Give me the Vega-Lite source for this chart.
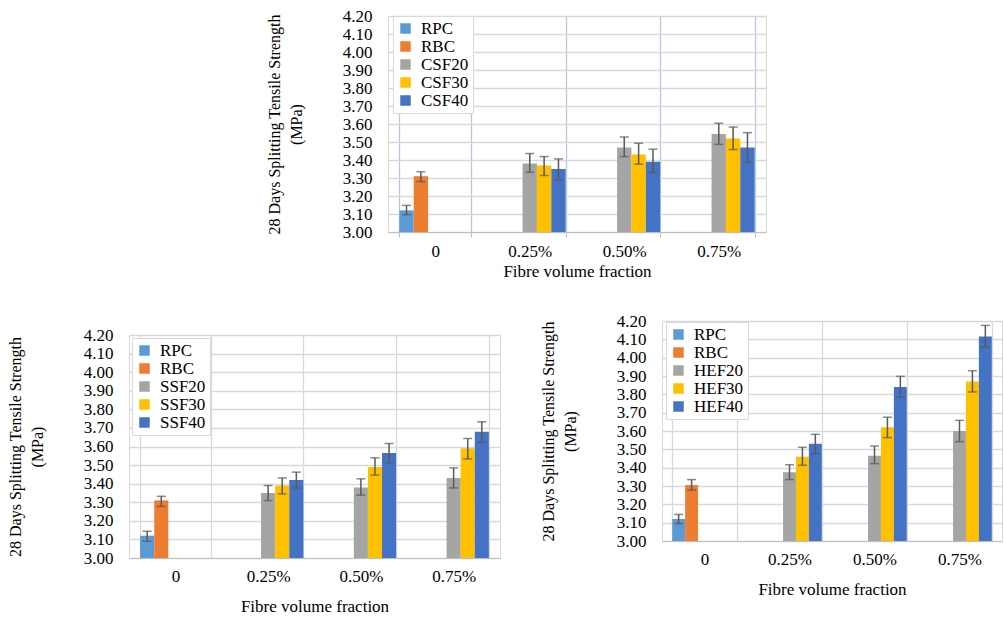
{
  "$schema": "https://vega.github.io/schema/vega-lite/v6.json",
  "padding": {"left": 6, "top": 6, "right": 0, "bottom": 0},
  "background": "white",
  "config": {
    "font": "Liberation Serif",
    "axis": {"labelFontSize": 17, "titleFontSize": 17, "titleFontWeight": "normal", "labelColor": "black", "titleColor": "black", "labelFont": "Liberation Serif", "titleFont": "Liberation Serif"},
    "axisY": {"titleFontSize": 16, "grid": true, "labelOverlap": false, "gridColor": "#D9D9D9", "gridWidth": 1.3, "domain": false, "ticks": false},
    "legend": {"labelFont": "Liberation Serif"}
  },
  "datasets": {
    "csf": [
      {"cat": "0", "series": "RPC", "value": 3.12, "lo": 3.096, "hi": 3.148},
      {"cat": "0", "series": "RBC", "value": 3.31, "lo": 3.28, "hi": 3.335},
      {"cat": "0", "series": "CSF20", "value": 3.0, "lo": null, "hi": null},
      {"cat": "0", "series": "CSF30", "value": 3.0, "lo": null, "hi": null},
      {"cat": "0", "series": "CSF40", "value": 3.0, "lo": null, "hi": null},
      {"cat": "0.25%", "series": "RPC", "value": 3.0, "lo": null, "hi": null},
      {"cat": "0.25%", "series": "RBC", "value": 3.0, "lo": null, "hi": null},
      {"cat": "0.25%", "series": "CSF20", "value": 3.38, "lo": 3.332, "hi": 3.436},
      {"cat": "0.25%", "series": "CSF30", "value": 3.37, "lo": 3.314, "hi": 3.419},
      {"cat": "0.25%", "series": "CSF40", "value": 3.35, "lo": 3.29, "hi": 3.406},
      {"cat": "0.50%", "series": "RPC", "value": 3.0, "lo": null, "hi": null},
      {"cat": "0.50%", "series": "RBC", "value": 3.0, "lo": null, "hi": null},
      {"cat": "0.50%", "series": "CSF20", "value": 3.47, "lo": 3.419, "hi": 3.528},
      {"cat": "0.50%", "series": "CSF30", "value": 3.43, "lo": 3.377, "hi": 3.493},
      {"cat": "0.50%", "series": "CSF40", "value": 3.39, "lo": 3.33, "hi": 3.46},
      {"cat": "0.75%", "series": "RPC", "value": 3.0, "lo": null, "hi": null},
      {"cat": "0.75%", "series": "RBC", "value": 3.0, "lo": null, "hi": null},
      {"cat": "0.75%", "series": "CSF20", "value": 3.545, "lo": 3.487, "hi": 3.604},
      {"cat": "0.75%", "series": "CSF30", "value": 3.52, "lo": 3.458, "hi": 3.583},
      {"cat": "0.75%", "series": "CSF40", "value": 3.47, "lo": 3.388, "hi": 3.552}
    ],
    "ssf": [
      {"cat": "0", "series": "RPC", "value": 3.12, "lo": 3.09, "hi": 3.144},
      {"cat": "0", "series": "RBC", "value": 3.31, "lo": 3.277, "hi": 3.332},
      {"cat": "0", "series": "SSF20", "value": 3.0, "lo": null, "hi": null},
      {"cat": "0", "series": "SSF30", "value": 3.0, "lo": null, "hi": null},
      {"cat": "0", "series": "SSF40", "value": 3.0, "lo": null, "hi": null},
      {"cat": "0.25%", "series": "RPC", "value": 3.0, "lo": null, "hi": null},
      {"cat": "0.25%", "series": "RBC", "value": 3.0, "lo": null, "hi": null},
      {"cat": "0.25%", "series": "SSF20", "value": 3.35, "lo": 3.309, "hi": 3.39},
      {"cat": "0.25%", "series": "SSF30", "value": 3.39, "lo": 3.345, "hi": 3.431},
      {"cat": "0.25%", "series": "SSF40", "value": 3.42, "lo": 3.377, "hi": 3.462},
      {"cat": "0.50%", "series": "RPC", "value": 3.0, "lo": null, "hi": null},
      {"cat": "0.50%", "series": "RBC", "value": 3.0, "lo": null, "hi": null},
      {"cat": "0.50%", "series": "SSF20", "value": 3.38, "lo": 3.338, "hi": 3.426},
      {"cat": "0.50%", "series": "SSF30", "value": 3.49, "lo": 3.446, "hi": 3.539},
      {"cat": "0.50%", "series": "SSF40", "value": 3.565, "lo": 3.512, "hi": 3.616},
      {"cat": "0.75%", "series": "RPC", "value": 3.0, "lo": null, "hi": null},
      {"cat": "0.75%", "series": "RBC", "value": 3.0, "lo": null, "hi": null},
      {"cat": "0.75%", "series": "SSF20", "value": 3.43, "lo": 3.377, "hi": 3.485},
      {"cat": "0.75%", "series": "SSF30", "value": 3.59, "lo": 3.533, "hi": 3.643},
      {"cat": "0.75%", "series": "SSF40", "value": 3.68, "lo": 3.623, "hi": 3.733}
    ],
    "hef": [
      {"cat": "0", "series": "RPC", "value": 3.12, "lo": 3.095, "hi": 3.145},
      {"cat": "0", "series": "RBC", "value": 3.305, "lo": 3.278, "hi": 3.335},
      {"cat": "0", "series": "HEF20", "value": 3.0, "lo": null, "hi": null},
      {"cat": "0", "series": "HEF30", "value": 3.0, "lo": null, "hi": null},
      {"cat": "0", "series": "HEF40", "value": 3.0, "lo": null, "hi": null},
      {"cat": "0.25%", "series": "RPC", "value": 3.0, "lo": null, "hi": null},
      {"cat": "0.25%", "series": "RBC", "value": 3.0, "lo": null, "hi": null},
      {"cat": "0.25%", "series": "HEF20", "value": 3.375, "lo": 3.335, "hi": 3.416},
      {"cat": "0.25%", "series": "HEF30", "value": 3.46, "lo": 3.413, "hi": 3.511},
      {"cat": "0.25%", "series": "HEF40", "value": 3.53, "lo": 3.476, "hi": 3.582},
      {"cat": "0.50%", "series": "RPC", "value": 3.0, "lo": null, "hi": null},
      {"cat": "0.50%", "series": "RBC", "value": 3.0, "lo": null, "hi": null},
      {"cat": "0.50%", "series": "HEF20", "value": 3.465, "lo": 3.422, "hi": 3.518},
      {"cat": "0.50%", "series": "HEF30", "value": 3.62, "lo": 3.564, "hi": 3.675},
      {"cat": "0.50%", "series": "HEF40", "value": 3.84, "lo": 3.784, "hi": 3.898},
      {"cat": "0.75%", "series": "RPC", "value": 3.0, "lo": null, "hi": null},
      {"cat": "0.75%", "series": "RBC", "value": 3.0, "lo": null, "hi": null},
      {"cat": "0.75%", "series": "HEF20", "value": 3.6, "lo": 3.542, "hi": 3.658},
      {"cat": "0.75%", "series": "HEF30", "value": 3.87, "lo": 3.813, "hi": 3.929},
      {"cat": "0.75%", "series": "HEF40", "value": 4.115, "lo": 4.058, "hi": 4.176}
    ]
  },
  "align": "none",
  "resolve": {"scale": {"color": "independent", "x": "independent", "y": "independent", "xOffset": "independent"}, "legend": {"color": "independent"}},
  "spacing": 31,
  "vconcat": [
    {
      "spacing": 0,
      "align": "none",
      "resolve": {"scale": {"color": "independent", "x": "independent", "y": "independent", "xOffset": "independent"}, "legend": {"color": "independent"}},
      "hconcat": [
        {"width": 136, "height": 1, "data": {"values": [{"a": 1}]}, "mark": {"type": "point", "opacity": 0}, "encoding": {}, "view": {"stroke": null}},
        {
          "width": 378, "height": 216,
          "data": {"name": "csf"},
          "view": {"stroke": "#D9D9D9"},
          "encoding": {
            "x": {"field": "cat", "type": "nominal", "sort": ["0", "0.25%", "0.50%", "0.75%"], "scale": {"paddingInner": 0.24, "paddingOuter": 0.12},
              "axis": {"title": "Fibre volume fraction", "labelAngle": 0, "tickBand": "extent", "grid": true, "gridColor": "#B4C7E7", "gridWidth": 1.3, "domainColor": "#BFBFBF", "tickColor": "#BFBFBF", "tickSize": 5, "labelPadding": 6, "titlePadding": 4}},
            "xOffset": {"field": "series", "type": "nominal", "sort": ["RPC", "RBC", "CSF20", "CSF30", "CSF40"]}
          },
          "layer": [
            {"mark": {"type": "bar"}, "encoding": {
              "y": {"field": "value", "type": "quantitative", "scale": {"domain": [3, 4.2], "zero": false},
                "axis": {"title": ["28 Days Splitting Tensile Strength", "(MPa)"], "values": [3, 3.1, 3.2, 3.3, 3.4, 3.5, 3.6, 3.7, 3.8, 3.9, 4, 4.1, 4.2], "format": ".2f", "grid": true, "labelOverlap": false, "domain": false, "ticks": false, "labelPadding": 16, "titlePadding": 38, "gridColor": "#D9D9D9", "gridWidth": 1.3, "titleLineHeight": 22}},
              "y2": {"datum": 3},
              "color": {"field": "series", "type": "nominal", "scale": {"domain": ["RPC", "RBC", "CSF20", "CSF30", "CSF40"], "range": ["#5B9BD5", "#ED7D31", "#A5A5A5", "#FFC000", "#4472C4"]},
                "legend": {"title": null, "orient": "none", "legendX": 5, "legendY": 0, "fillColor": "white", "strokeColor": "#D9D9D9", "padding": 4, "symbolType": "square", "symbolSize": 110, "symbolStrokeWidth": 0, "labelFontSize": 17, "labelColor": "black", "rowPadding": 0, "labelOffset": 7}}
            }},
            {"mark": {"type": "rule", "color": "#595959", "strokeWidth": 1.5}, "encoding": {"y": {"field": "lo", "type": "quantitative", "axis": {"title": ["28 Days Splitting Tensile Strength", "(MPa)"], "values": [3, 3.1, 3.2, 3.3, 3.4, 3.5, 3.6, 3.7, 3.8, 3.9, 4, 4.1, 4.2], "format": ".2f", "grid": true, "labelOverlap": false, "domain": false, "ticks": false, "labelPadding": 16, "titlePadding": 38, "gridColor": "#D9D9D9", "gridWidth": 1.3, "titleLineHeight": 22}}, "y2": {"field": "hi"}}},
            {"mark": {"type": "tick", "orient": "horizontal", "size": 9, "thickness": 1.5, "color": "#595959"}, "encoding": {"y": {"field": "lo", "type": "quantitative", "axis": {"title": ["28 Days Splitting Tensile Strength", "(MPa)"], "values": [3, 3.1, 3.2, 3.3, 3.4, 3.5, 3.6, 3.7, 3.8, 3.9, 4, 4.1, 4.2], "format": ".2f", "grid": true, "labelOverlap": false, "domain": false, "ticks": false, "labelPadding": 16, "titlePadding": 38, "gridColor": "#D9D9D9", "gridWidth": 1.3, "titleLineHeight": 22}}}},
            {"mark": {"type": "tick", "orient": "horizontal", "size": 9, "thickness": 1.5, "color": "#595959"}, "encoding": {"y": {"field": "hi", "type": "quantitative", "axis": {"title": ["28 Days Splitting Tensile Strength", "(MPa)"], "values": [3, 3.1, 3.2, 3.3, 3.4, 3.5, 3.6, 3.7, 3.8, 3.9, 4, 4.1, 4.2], "format": ".2f", "grid": true, "labelOverlap": false, "domain": false, "ticks": false, "labelPadding": 16, "titlePadding": 38, "gridColor": "#D9D9D9", "gridWidth": 1.3, "titleLineHeight": 22}}}}
          ]
        }
      ]
    },
    {
      "spacing": 38,
      "align": "none",
      "resolve": {"scale": {"color": "independent", "x": "independent", "y": "independent", "xOffset": "independent"}, "legend": {"color": "independent"}},
      "hconcat": [
        {
          "spacing": 0,
          "align": "none",
          "resolve": {"scale": {"color": "independent", "x": "independent", "y": "independent", "xOffset": "independent"}, "legend": {"color": "independent"}},
          "vconcat": [
            {"width": 1, "height": 1, "data": {"values": [{"a": 1}]}, "mark": {"type": "point", "opacity": 0}, "encoding": {}, "view": {"stroke": null}},
            {
              "width": 371, "height": 223,
              "data": {"name": "ssf"},
              "view": {"stroke": "#D9D9D9"},
              "encoding": {
                "x": {"field": "cat", "type": "nominal", "sort": ["0", "0.25%", "0.50%", "0.75%"], "scale": {"paddingInner": 0.24, "paddingOuter": 0.12},
                  "axis": {"title": "Fibre volume fraction", "labelAngle": 0, "tickBand": "extent", "grid": true, "gridColor": "#D9D9D9", "gridWidth": 1.3, "domainColor": "#BFBFBF", "ticks": false, "labelPadding": 10, "titlePadding": 14}},
                "xOffset": {"field": "series", "type": "nominal", "sort": ["RPC", "RBC", "SSF20", "SSF30", "SSF40"]}
              },
              "layer": [
                {"mark": {"type": "bar"}, "encoding": {
                  "y": {"field": "value", "type": "quantitative", "scale": {"domain": [3, 4.2], "zero": false},
                    "axis": {"title": ["28 Days Splitting Tensile Strength", "(MPa)"], "values": [3, 3.1, 3.2, 3.3, 3.4, 3.5, 3.6, 3.7, 3.8, 3.9, 4, 4.1, 4.2], "format": ".2f", "grid": true, "labelOverlap": false, "domain": false, "ticks": false, "labelPadding": 16, "titlePadding": 38, "gridColor": "#D9D9D9", "gridWidth": 1.3, "titleLineHeight": 22}},
                  "y2": {"datum": 3},
                  "color": {"field": "series", "type": "nominal", "scale": {"domain": ["RPC", "RBC", "SSF20", "SSF30", "SSF40"], "range": ["#5B9BD5", "#ED7D31", "#A5A5A5", "#FFC000", "#4472C4"]},
                    "legend": {"title": null, "orient": "none", "legendX": 3, "legendY": 3, "fillColor": "white", "strokeColor": "#D9D9D9", "padding": 4, "symbolType": "square", "symbolSize": 110, "symbolStrokeWidth": 0, "labelFontSize": 17, "labelColor": "black", "rowPadding": 0, "labelOffset": 7}}
                }},
                {"mark": {"type": "rule", "color": "#595959", "strokeWidth": 1.5}, "encoding": {"y": {"field": "lo", "type": "quantitative", "axis": {"title": ["28 Days Splitting Tensile Strength", "(MPa)"], "values": [3, 3.1, 3.2, 3.3, 3.4, 3.5, 3.6, 3.7, 3.8, 3.9, 4, 4.1, 4.2], "format": ".2f", "grid": true, "labelOverlap": false, "domain": false, "ticks": false, "labelPadding": 16, "titlePadding": 38, "gridColor": "#D9D9D9", "gridWidth": 1.3, "titleLineHeight": 22}}, "y2": {"field": "hi"}}},
                {"mark": {"type": "tick", "orient": "horizontal", "size": 9, "thickness": 1.5, "color": "#595959"}, "encoding": {"y": {"field": "lo", "type": "quantitative", "axis": {"title": ["28 Days Splitting Tensile Strength", "(MPa)"], "values": [3, 3.1, 3.2, 3.3, 3.4, 3.5, 3.6, 3.7, 3.8, 3.9, 4, 4.1, 4.2], "format": ".2f", "grid": true, "labelOverlap": false, "domain": false, "ticks": false, "labelPadding": 16, "titlePadding": 38, "gridColor": "#D9D9D9", "gridWidth": 1.3, "titleLineHeight": 22}}}},
                {"mark": {"type": "tick", "orient": "horizontal", "size": 9, "thickness": 1.5, "color": "#595959"}, "encoding": {"y": {"field": "hi", "type": "quantitative", "axis": {"title": ["28 Days Splitting Tensile Strength", "(MPa)"], "values": [3, 3.1, 3.2, 3.3, 3.4, 3.5, 3.6, 3.7, 3.8, 3.9, 4, 4.1, 4.2], "format": ".2f", "grid": true, "labelOverlap": false, "domain": false, "ticks": false, "labelPadding": 16, "titlePadding": 38, "gridColor": "#D9D9D9", "gridWidth": 1.3, "titleLineHeight": 22}}}}
              ]
            }
          ]
        },
        {
          "width": 340, "height": 220,
          "data": {"name": "hef"},
          "view": {"stroke": "#D9D9D9"},
          "encoding": {
            "x": {"field": "cat", "type": "nominal", "sort": ["0", "0.25%", "0.50%", "0.75%"], "scale": {"paddingInner": 0.24, "paddingOuter": 0.12},
              "axis": {"title": "Fibre volume fraction", "labelAngle": 0, "tickBand": "extent", "grid": true, "gridColor": "#D9D9D9", "gridWidth": 1.3, "domainColor": "#BFBFBF", "ticks": false, "labelPadding": 10, "titlePadding": 14}},
            "xOffset": {"field": "series", "type": "nominal", "sort": ["RPC", "RBC", "HEF20", "HEF30", "HEF40"]}
          },
          "layer": [
            {"mark": {"type": "bar"}, "encoding": {
              "y": {"field": "value", "type": "quantitative", "scale": {"domain": [3, 4.2], "zero": false},
                "axis": {"title": ["28 Days Splitting Tensile Strength", "(MPa)"], "values": [3, 3.1, 3.2, 3.3, 3.4, 3.5, 3.6, 3.7, 3.8, 3.9, 4, 4.1, 4.2], "format": ".2f", "grid": true, "labelOverlap": false, "domain": false, "ticks": false, "labelPadding": 16, "titlePadding": 38, "gridColor": "#D9D9D9", "gridWidth": 1.3, "titleLineHeight": 22}},
              "y2": {"datum": 3},
              "color": {"field": "series", "type": "nominal", "scale": {"domain": ["RPC", "RBC", "HEF20", "HEF30", "HEF40"], "range": ["#5B9BD5", "#ED7D31", "#A5A5A5", "#FFC000", "#4472C4"]},
                "legend": {"title": null, "orient": "none", "legendX": 4, "legendY": 1, "fillColor": "white", "strokeColor": "#D9D9D9", "padding": 4, "symbolType": "square", "symbolSize": 110, "symbolStrokeWidth": 0, "labelFontSize": 17, "labelColor": "black", "rowPadding": 0, "labelOffset": 7}}
            }},
            {"mark": {"type": "rule", "color": "#595959", "strokeWidth": 1.5}, "encoding": {"y": {"field": "lo", "type": "quantitative", "axis": {"title": ["28 Days Splitting Tensile Strength", "(MPa)"], "values": [3, 3.1, 3.2, 3.3, 3.4, 3.5, 3.6, 3.7, 3.8, 3.9, 4, 4.1, 4.2], "format": ".2f", "grid": true, "labelOverlap": false, "domain": false, "ticks": false, "labelPadding": 16, "titlePadding": 38, "gridColor": "#D9D9D9", "gridWidth": 1.3, "titleLineHeight": 22}}, "y2": {"field": "hi"}}},
            {"mark": {"type": "tick", "orient": "horizontal", "size": 9, "thickness": 1.5, "color": "#595959"}, "encoding": {"y": {"field": "lo", "type": "quantitative", "axis": {"title": ["28 Days Splitting Tensile Strength", "(MPa)"], "values": [3, 3.1, 3.2, 3.3, 3.4, 3.5, 3.6, 3.7, 3.8, 3.9, 4, 4.1, 4.2], "format": ".2f", "grid": true, "labelOverlap": false, "domain": false, "ticks": false, "labelPadding": 16, "titlePadding": 38, "gridColor": "#D9D9D9", "gridWidth": 1.3, "titleLineHeight": 22}}}},
            {"mark": {"type": "tick", "orient": "horizontal", "size": 9, "thickness": 1.5, "color": "#595959"}, "encoding": {"y": {"field": "hi", "type": "quantitative", "axis": {"title": ["28 Days Splitting Tensile Strength", "(MPa)"], "values": [3, 3.1, 3.2, 3.3, 3.4, 3.5, 3.6, 3.7, 3.8, 3.9, 4, 4.1, 4.2], "format": ".2f", "grid": true, "labelOverlap": false, "domain": false, "ticks": false, "labelPadding": 16, "titlePadding": 38, "gridColor": "#D9D9D9", "gridWidth": 1.3, "titleLineHeight": 22}}}}
          ]
        }
      ]
    }
  ]
}
